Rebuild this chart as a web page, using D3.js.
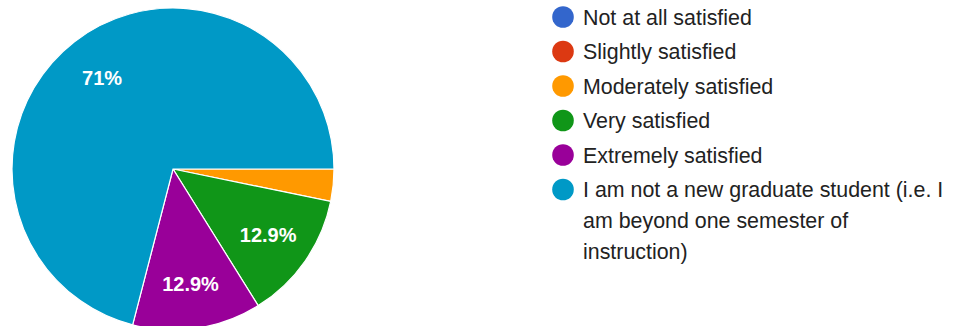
<!DOCTYPE html>
<html>
<head>
<meta charset="utf-8">
<script src="https://cdn.jsdelivr.net/npm/d3@7"></script>
<style>
  html, body { margin: 0; padding: 0; background: #fff; }
  svg { display: block; }
</style>
</head>
<body>
<svg id="chart" width="956" height="326"></svg>
<script>
// Survey responses: satisfaction of new graduate students
const categories = [
  "Not at all satisfied",
  "Slightly satisfied",
  "Moderately satisfied",
  "Very satisfied",
  "Extremely satisfied",
  "I am not a new graduate student (i.e. I\nam beyond one semester of\ninstruction)"
];
const counts = [0, 0, 1, 4, 4, 22];
const colors = ["#3366cc", "#dc3912", "#ff9900", "#109618", "#990099", "#0099c6"];

const cx = 173, cy = 169, radius = 161;
const fontFamily = "'Liberation Sans', Arial, Helvetica, sans-serif";

const svg = d3.select("#chart");
const total = d3.sum(counts);
const data = categories.map((c, i) => ({ label: c, value: counts[i], color: colors[i] }));

// Slices run clockwise starting from 3 o'clock
const pie = d3.pie()
  .sort(null)
  .value(d => d.value)
  .startAngle(Math.PI / 2)
  .endAngle(Math.PI / 2 + 2 * Math.PI);

const arc = d3.arc().innerRadius(0).outerRadius(radius);
const labelArc = d3.arc().innerRadius(radius * 0.72).outerRadius(radius * 0.72);
const pct = d3.format(".3~r");

const g = svg.append("g").attr("transform", `translate(${cx},${cy})`);
const arcs = pie(data).filter(d => d.data.value > 0);

g.selectAll("path.slice")
  .data(arcs)
  .join("path")
  .attr("class", "slice")
  .attr("d", arc)
  .attr("fill", d => d.data.color)
  .attr("stroke", "#fff")
  .attr("stroke-width", 1.2);

// Percentage labels on slices large enough to hold them
g.selectAll("text.pct")
  .data(arcs.filter(d => d.data.value / total > 0.05))
  .join("text")
  .attr("class", "pct")
  .attr("transform", d => `translate(${labelArc.centroid(d)})`)
  .attr("text-anchor", "middle")
  .attr("dy", "0.36em")
  .attr("fill", "#fff")
  .attr("font-family", fontFamily)
  .attr("font-size", 20)
  .attr("font-weight", "bold")
  .text(d => pct(d.data.value / total * 100) + "%");

// Legend
const legendX = 563, legendY0 = 17, rowGap = 34.5, lineGap = 31, textX = 583;
const legendFont = 21.4;

const legend = svg.append("g").attr("class", "legend");

data.forEach((d, i) => {
  const y = legendY0 + i * rowGap;
  const row = legend.append("g");
  row.append("circle")
    .attr("cx", legendX).attr("cy", y).attr("r", 10.8)
    .attr("fill", d.color);
  const t = row.append("text")
    .attr("font-family", fontFamily)
    .attr("font-size", legendFont)
    .attr("fill", "#222");
  d.label.split("\n").forEach((ln, j) => {
    t.append("tspan")
      .attr("x", textX)
      .attr("y", y + j * lineGap)
      .attr("dy", "0.36em")
      .text(ln);
  });
});
</script>
</body>
</html>
